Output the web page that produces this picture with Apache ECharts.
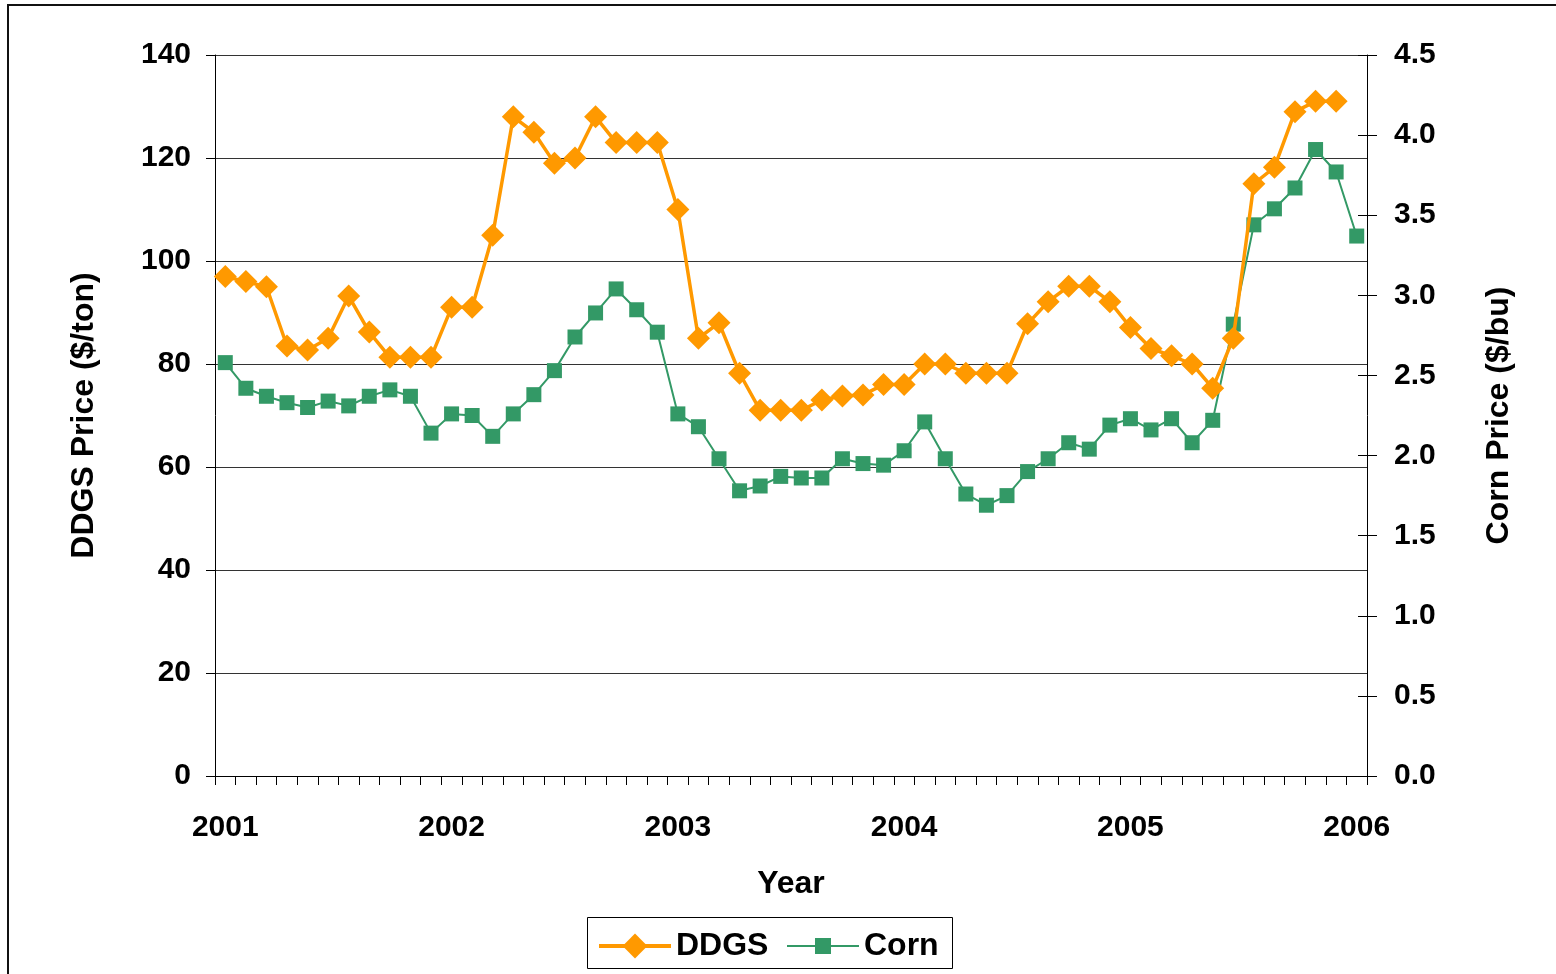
<!DOCTYPE html>
<html>
<head>
<meta charset="utf-8">
<title>DDGS and Corn Prices</title>
<script src="https://cdn.jsdelivr.net/npm/echarts@6/dist/echarts.min.js"></script>
<style>
  html, body { margin: 0; padding: 0; background: #fff; }
  #chart { width: 1556px; height: 974px; }
</style>
</head>
<body>
<div id="chart"></div>
<script>
// Year labels shown along the time axis, one every 11 observations
const yearLabels = ['2001', '2002', '2003', '2004', '2005', '2006'];
const labelStep = 11;

// Observation periods (56 in total)
const periods = [
  1, 2, 3, 4, 5, 6, 7, 8, 9, 10, 11, 12, 13, 14,
  15, 16, 17, 18, 19, 20, 21, 22, 23, 24, 25, 26, 27, 28,
  29, 30, 31, 32, 33, 34, 35, 36, 37, 38, 39, 40, 41, 42,
  43, 44, 45, 46, 47, 48, 49, 50, 51, 52, 53, 54, 55, 56
];

// DDGS price, $/ton
const ddgs = [
  97, 96, 95, 83.5, 82.7, 85, 93.2, 86.2, 81.3, 81.3, 81.3, 91, 91, 105,
  128, 125, 119, 120, 128, 123, 123, 123, 110, 85, 88, 78.2, 71, 71,
  71, 73, 73.8, 74, 76, 76, 80, 80, 78.2, 78.2, 78.2, 87.8, 92.1, 95.1,
  95.1, 92.1, 87.1, 83, 81.6, 80, 75.3, 85, 115, 118.2, 129, 131, 131
];

// Corn price, $/bu
const corn = [
  2.58, 2.42, 2.37, 2.33, 2.30, 2.34, 2.31, 2.37, 2.41, 2.37, 2.14, 2.26, 2.25, 2.12,
  2.26, 2.38, 2.53, 2.74, 2.89, 3.04, 2.91, 2.77, 2.26, 2.18, 1.98, 1.78, 1.81, 1.87,
  1.86, 1.86, 1.98, 1.95, 1.94, 2.03, 2.21, 1.98, 1.76, 1.69, 1.75, 1.90, 1.98, 2.08,
  2.04, 2.19, 2.23, 2.16, 2.23, 2.08, 2.22, 2.82, 3.44, 3.54, 3.67, 3.91, 3.77, 3.37
];

const DDGS_COLOR = '#FF9900';
const CORN_COLOR = '#339966';

const FONT = "'Liberation Sans', Arial, sans-serif";
const tickFont = { fontFamily: FONT, fontWeight: 'bold', fontSize: 30, color: '#000' };
const titleFont = { fontFamily: FONT, fontWeight: 'bold', fontSize: 32, color: '#000' };

const chart = echarts.init(document.getElementById('chart'), null, { renderer: 'canvas' });

// one legend per series so each keeps its own marker size and line weight
function legendFor(name, left, itemHeight, lineWidth) {
  return {
    left: left,
    top: 930,
    padding: 0,
    itemWidth: 72,
    itemHeight: itemHeight,
    lineStyle: { width: lineWidth },
    textStyle: titleFont,
    data: [name]
  };
}

chart.setOption({
  backgroundColor: '#fff',
  animation: false,
  graphic: [
    {
      // frame around the chart (left and top edges visible)
      type: 'rect',
      silent: true,
      shape: { x: 8, y: 5, width: 1700, height: 1100 },
      style: { fill: 'none', stroke: '#111', lineWidth: 2 }
    },
    {
      // legend box
      type: 'rect',
      silent: true,
      shape: { x: 587.5, y: 917.5, width: 365, height: 51 },
      style: { fill: 'none', stroke: '#000', lineWidth: 1 }
    }
  ],
  grid: { left: 215, right: 189, top: 55, bottom: 198, containLabel: false },
  legend: [
    legendFor('DDGS', 597, 31, 4),
    legendFor('Corn', 786, 20, 2)
  ],
  xAxis: {
    type: 'category',
    data: periods,
    boundaryGap: true,
    name: 'Year',
    nameLocation: 'middle',
    nameGap: 92,
    nameTextStyle: titleFont,
    axisLine: { show: true, lineStyle: { color: '#000', width: 1 } },
    axisTick: { show: true, interval: 0, length: 9, lineStyle: { color: '#000' } },
    axisLabel: Object.assign({
      interval: labelStep - 1,
      margin: 37,
      formatter: (v, i) => yearLabels[Math.round(i / labelStep)]
    }, tickFont),
    splitLine: { show: false }
  },
  yAxis: [
    {
      type: 'value',
      position: 'left',
      min: 0, max: 140, interval: 20,
      name: 'DDGS Price ($/ton)',
      nameLocation: 'middle',
      nameRotate: 90,
      nameGap: 115,
      nameTextStyle: titleFont,
      axisLine: { show: true, lineStyle: { color: '#000', width: 1 } },
      axisTick: { show: true, length: 9, lineStyle: { color: '#000' } },
      axisLabel: Object.assign({ margin: 24, padding: [6, 0, 0, 0] }, tickFont),
      splitLine: { show: true, lineStyle: { color: '#333', width: 1 } }
    },
    {
      type: 'value',
      position: 'right',
      min: 0, max: 4.5, interval: 0.5,
      name: 'Corn Price ($/bu)',
      nameLocation: 'middle',
      nameRotate: 90,
      nameGap: 116,
      nameTextStyle: titleFont,
      axisLine: { show: true, lineStyle: { color: '#000', width: 1 } },
      axisTick: { show: true, length: 10, lineStyle: { color: '#000' } },
      axisLabel: Object.assign({ margin: 27, padding: [6, 0, 0, 0], formatter: v => v.toFixed(1) }, tickFont),
      splitLine: { show: false }
    },
    {
      // inner half of the crossing ticks on the right axis
      type: 'value',
      position: 'right',
      min: 0, max: 4.5, interval: 0.5,
      axisLine: { show: false },
      axisTick: { show: true, inside: true, length: 9, lineStyle: { color: '#000' } },
      axisLabel: { show: false },
      splitLine: { show: false }
    }
  ],
  series: [
    {
      name: 'DDGS',
      type: 'line',
      yAxisIndex: 0,
      data: ddgs,
      symbol: 'diamond',
      symbolSize: 23,
      showAllSymbol: true,
      itemStyle: { color: DDGS_COLOR },
      lineStyle: { color: DDGS_COLOR, width: 3.5 },
      z: 3
    },
    {
      name: 'Corn',
      type: 'line',
      yAxisIndex: 1,
      data: corn,
      symbol: 'rect',
      symbolSize: 15,
      showAllSymbol: true,
      itemStyle: { color: CORN_COLOR },
      lineStyle: { color: CORN_COLOR, width: 2 },
      z: 2
    }
  ]
});
</script>
</body>
</html>
